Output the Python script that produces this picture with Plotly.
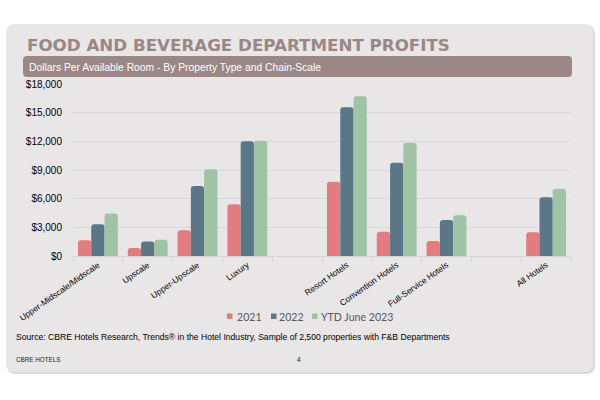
import plotly.graph_objects as go

categories = ["Upper-Midscale/Midscale", "Upscale", "Upper-Upscale", "Luxury", " ",
              "Resort Hotels", "Convention Hotels", "Full-Service Hotels", "  ", "All Hotels"]
series_names = ["2021", "2022", "YTD June 2023"]
values_2021 = [1650, 830, 2690, 5410, None, 7780, 2550, 1570, None, 2480]
values_2022 = [3310, 1530, 7320, 12000, None, 15560, 9770, 3770, None, 6140]
values_ytd = [4460, 1710, 9070, 12070, None, 16710, 11860, 4260, None, 7050]
y_ticks = [0, 3000, 6000, 9000, 12000, 15000, 18000]
y_tick_labels = ["$0", "$3,000", "$6,000", "$9,000", "$12,000", "$15,000", "$18,000"]
colors = ["#e27c80", "#5b7787", "#9ec3a5"]

W, H = 600, 400
L, R, T, B = 73, 29, 84, 144
PW, PH = W - L - R, H - T - B


def px(x):
    return (x - L) / PW


def py(y):
    return (H - B - y) / PH


def rrect(x0, y0, x1, y1, r):
    pts = [
        f"M{px(x0 + r)},{py(y0)}",
        f"L{px(x1 - r)},{py(y0)}",
        f"Q{px(x1)},{py(y0)} {px(x1)},{py(y0 + r)}",
        f"L{px(x1)},{py(y1 - r)}",
        f"Q{px(x1)},{py(y1)} {px(x1 - r)},{py(y1)}",
        f"L{px(x0 + r)},{py(y1)}",
        f"Q{px(x0)},{py(y1)} {px(x0)},{py(y1 - r)}",
        f"L{px(x0)},{py(y0 + r)}",
        f"Q{px(x0)},{py(y0)} {px(x0 + r)},{py(y0)}",
        "Z",
    ]
    return " ".join(pts)


fig = go.Figure()
for name, vals, col in zip(series_names, [values_2021, values_2022, values_ytd], colors):
    fig.add_trace(go.Bar(x=categories, y=vals, name=name, marker_color=col,
                         marker_line_width=0, showlegend=False))

shapes = [
    dict(type="path", xref="paper", yref="paper", path=rrect(7, 25, 595, 374, 9),
         fillcolor="#dcdadb", line_width=0, layer="below"),
    dict(type="path", xref="paper", yref="paper", path=rrect(6, 24, 593, 372, 9),
         fillcolor="#e8e6e7", line_width=0, layer="below"),
    dict(type="path", xref="paper", yref="paper", path=rrect(23, 56, 572, 77, 4),
         fillcolor="#9c8787", line_width=0, layer="below"),
]

annotations = [
    dict(text="<b>FOOD AND BEVERAGE DEPARTMENT PROFITS</b>", x=px(25), y=py(44.5),
         xref="paper", yref="paper", xanchor="left", yanchor="middle", showarrow=False,
         font=dict(family="DejaVu Sans", size=16.7, color="#9b8686")),
    dict(text="Dollars Per Available Room - By Property Type and Chain-Scale", x=px(27), y=py(67),
         xref="paper", yref="paper", xanchor="left", yanchor="middle", showarrow=False,
         font=dict(family="Liberation Sans, Arial", size=10.3, color="#ffffff")),
    dict(text="Source: CBRE Hotels Research, Trends® in the Hotel Industry, Sample of 2,500 properties with F&B Departments",
         x=px(14), y=py(337), xref="paper", yref="paper", xanchor="left", yanchor="middle",
         showarrow=False, font=dict(family="Liberation Sans, Arial", size=8.6, color="#000000")),
    dict(text="CBRE HOTELS", x=px(14), y=py(359), xref="paper", yref="paper", xanchor="left",
         yanchor="middle", showarrow=False,
         font=dict(family="Liberation Sans Narrow, Liberation Sans", size=6.3, color="#222222")),
    dict(text="4", x=px(299), y=py(359), xref="paper", yref="paper", xanchor="center",
         yanchor="middle", showarrow=False,
         font=dict(family="Liberation Sans, Arial", size=6.5, color="#222222")),
]

# manual legend: small squares + labels
legend_sq_x = [227, 271, 312]
legend_txt_x = [235, 277, 319]
for name, col, sx, tx in zip(series_names, colors, legend_sq_x, legend_txt_x):
    shapes.append(dict(type="rect", xref="paper", yref="paper",
                       x0=px(sx), x1=px(sx + 5.5), y0=py(313.5), y1=py(319),
                       fillcolor=col, line_width=0))
    annotations.append(dict(text=name, x=px(tx), y=py(316.5), xref="paper", yref="paper",
                            xanchor="left", yanchor="middle", showarrow=False,
                            font=dict(family="Lato", size=10.6, color="#595959")))

fig.update_layout(
    width=W, height=H,
    margin=dict(l=L, r=R, t=T, b=B, pad=0),
    paper_bgcolor="#ffffff",
    plot_bgcolor="rgba(0,0,0,0)",
    barmode="group", bargap=0.2, bargroupgap=0, barcornerradius=3,
    shapes=shapes, annotations=annotations,
    showlegend=False,
    font=dict(family="Liberation Sans, Arial", color="#000000"),
)
fig.update_xaxes(
    type="category", categoryorder="array", categoryarray=categories,
    tickangle=-35, tickfont=dict(family="Liberation Sans, Arial", size=8.5, color="#000000"),
    showgrid=False, showline=True, linecolor="#d4d2d3", linewidth=1,
    ticks="outside", ticklen=5, tickcolor="#d4d2d3", tickson="boundaries",
)
fig.update_yaxes(
    range=[0, 18000], tickvals=y_ticks, ticktext=y_tick_labels,
    tickfont=dict(family="Liberation Sans, Arial", size=10, color="#000000"),
    showgrid=True, gridcolor="#d9d7d8", gridwidth=1, zeroline=False,
    ticks="", ticklabelstandoff=10,
)

fig.write_html("out.html", config={"displayModeBar": False},
               post_script="document.body.style.margin='0';")
